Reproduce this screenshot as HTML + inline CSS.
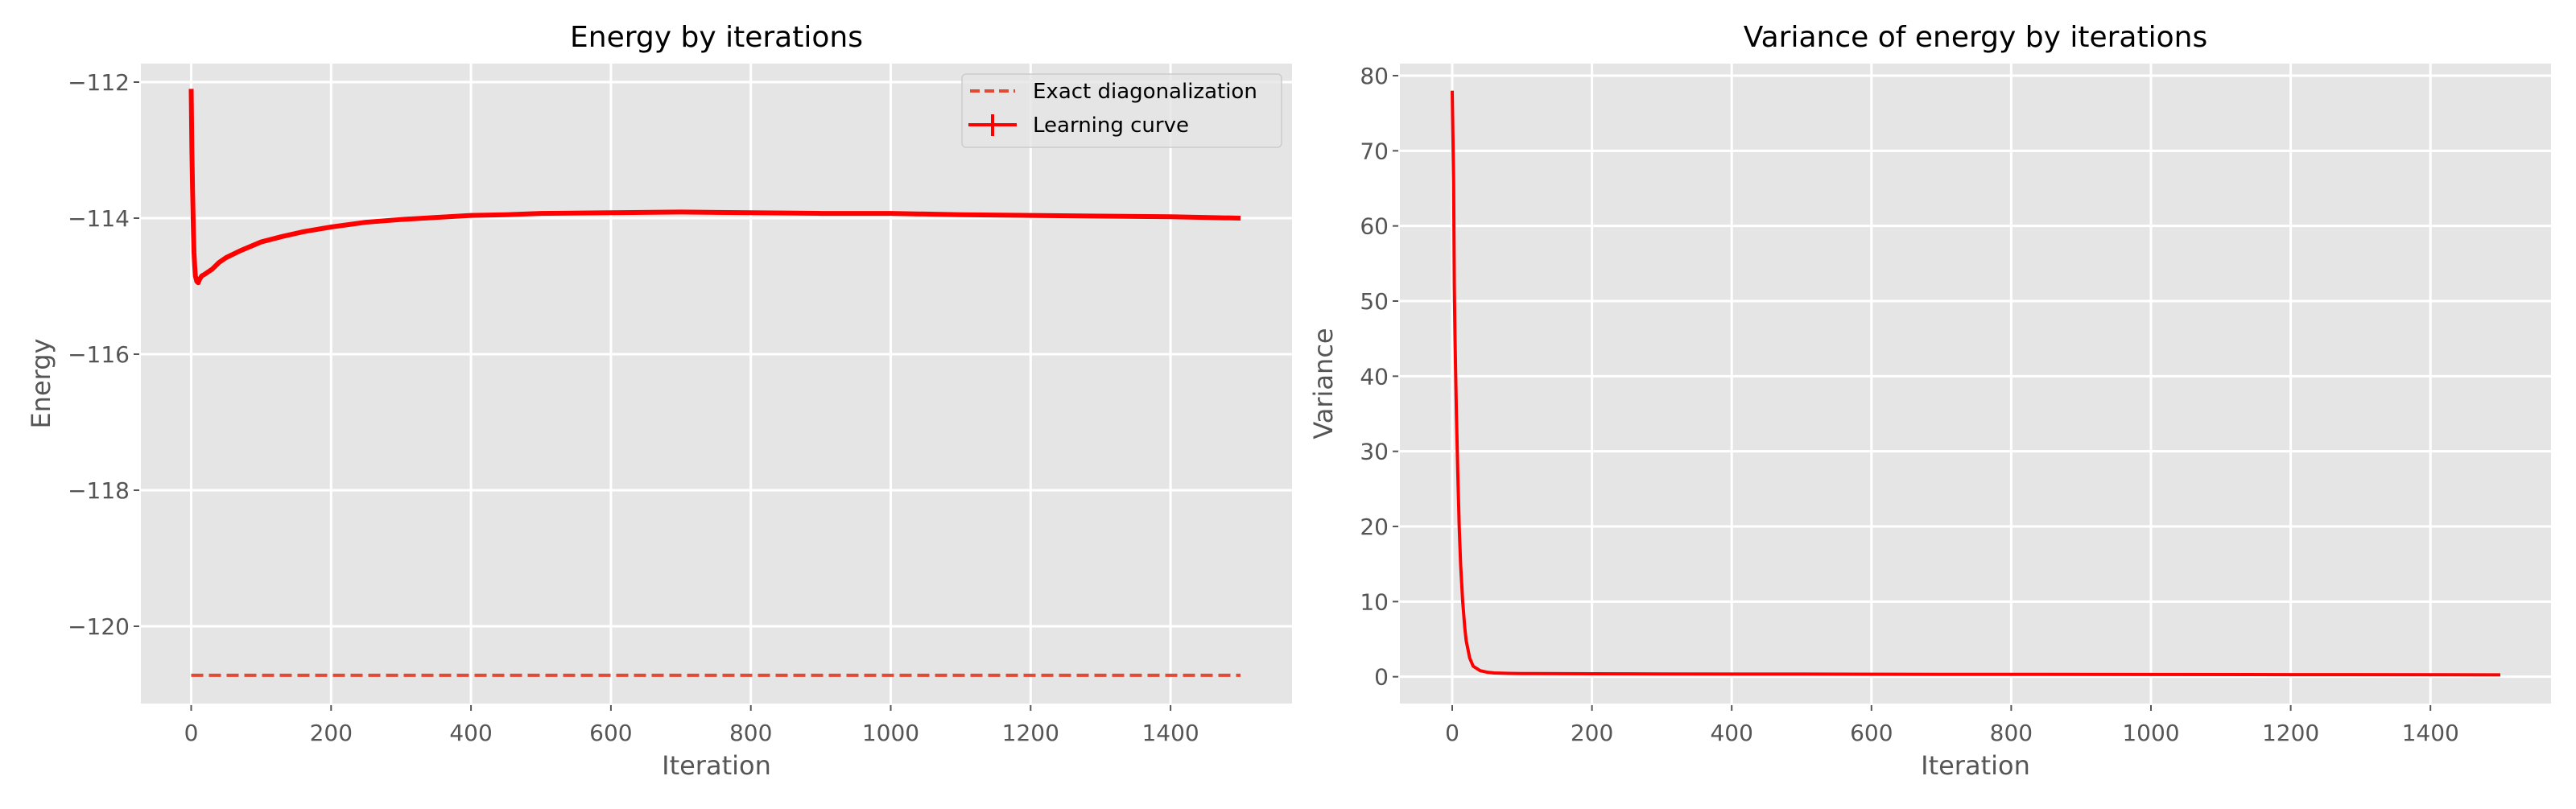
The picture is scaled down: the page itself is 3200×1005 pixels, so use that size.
<!DOCTYPE html>
<html><head><meta charset="utf-8">
<style>
html,body{margin:0;padding:0;background:#fff;}
svg text{font-family:"DejaVu Sans","Liberation Sans",sans-serif;}
</style></head>
<body>
<svg id="fig" width="3200" height="1000" viewBox="0 0 3200 1000" xmlns="http://www.w3.org/2000/svg"></svg>
<script>
// ---- Energy chart data ----
const energyIters = [0,1,2,3,4,5,6,8,10,12,15,20,30,40,50,70,100,130,160,200,250,300,350,400,450,500,600,700,800,900,1000,1100,1200,1300,1400,1500];
const energyVals  = [-112.1,-113.0,-113.6,-114.1,-114.5,-114.7,-114.85,-114.93,-114.95,-114.9,-114.85,-114.82,-114.75,-114.65,-114.58,-114.48,-114.35,-114.27,-114.2,-114.13,-114.06,-114.02,-113.99,-113.96,-113.95,-113.93,-113.92,-113.91,-113.92,-113.93,-113.93,-113.95,-113.96,-113.97,-113.98,-114.0];
const exactEnergy = -120.72;
const energyYTicks = [-112,-114,-116,-118,-120];
const xTicks = [0,200,400,600,800,1000,1200,1400];
// ---- Variance chart data ----
const varIters = [0,1,2,3,4,5,6,8,10,12,15,18,20,25,30,40,50,60,80,100,200,300,500,700,1000,1200,1500];
const varVals  = [78,72,66,52,45,40,35,27,20,15,10,6.5,4.8,2.5,1.4,0.8,0.6,0.5,0.45,0.42,0.4,0.37,0.35,0.32,0.3,0.28,0.25];
const varYTicks = [0,10,20,30,40,50,60,70,80];

const NS="http://www.w3.org/2000/svg";
const svg=document.getElementById('fig');
function mk(tag,attrs,parent){const e=document.createElementNS(NS,tag);for(const k in attrs)e.setAttribute(k,attrs[k]);(parent||svg).appendChild(e);return e;}

function drawAxes(cfg){
  const g=mk('g',{});
  
  
  const X=v=>cfg.x0+(v-cfg.xmin)*(cfg.x1-cfg.x0)/(cfg.xmax-cfg.xmin);
  const Y=v=>cfg.y1-(v-cfg.ymin)*(cfg.y1-cfg.y0)/(cfg.ymax-cfg.ymin);
  const bg=mk('rect',{x:cfg.x0,y:cfg.y0,width:cfg.x1-cfg.x0,height:cfg.y1-cfg.y0,fill:'#e5e5e5'},g);
  
  
  cfg.xticks.forEach(t=>{
    const x=X(t);
    const gl=mk('line',{x1:x,x2:x,y1:cfg.y0,y2:cfg.y1,stroke:'#fff','stroke-width':3},g);
    
    
    mk('line',{x1:x,x2:x,y1:cfg.y1+2,y2:cfg.y1+9,stroke:'#555','stroke-width':2},g);
    const tl=mk('text',{x:x,y:cfg.y1+46,'font-size':28,fill:'#555','text-anchor':'middle'},g);
    tl.textContent=t;
    
    
  });
  cfg.yticks.forEach(t=>{
    const y=Y(t);
    const gl=mk('line',{x1:cfg.x0,x2:cfg.x1,y1:y,y2:y,stroke:'#fff','stroke-width':3},g);
    
    
    mk('line',{x1:cfg.x0-9,x2:cfg.x0-2,y1:y,y2:y,stroke:'#555','stroke-width':2},g);
    const tl=mk('text',{x:cfg.x0-14,y:y+10,'font-size':28,fill:'#555','text-anchor':'end'},g);
    tl.textContent=(t<0?'\u2212'+(-t):t);
    
    
  });
  const cx=(cfg.x0+cfg.x1)/2;
  const title=mk('text',{x:cx,y:58,'font-size':36,fill:'#000','text-anchor':'middle'},g);
  title.textContent=cfg.title;
  
  
  const xl=mk('text',{x:cx,y:962,'font-size':32,fill:'#555','text-anchor':'middle'},g);
  xl.textContent='Iteration';
  
  
  const yc=(cfg.y0+cfg.y1)/2;
  const yl=mk('text',{x:cfg.ylabX,y:yc,'font-size':32,fill:'#555','text-anchor':'middle',transform:`rotate(-90 ${cfg.ylabX} ${yc})`},g);
  yl.textContent=cfg.ylabel;
  
  
  return {g,X,Y};
}

// Energy
const A=drawAxes({name:'energy-chart',x0:175,x1:1605,y0:79,y1:874,xmin:(175-237.5)/0.869,xmax:(1605-237.5)/0.869,
  ymin:-120-(874-778)/84.5,ymax:-112+(102-79)/84.5,xticks:xTicks,yticks:energyYTicks,title:'Energy by iterations',ylabel:'Energy',ylabX:62});
const ex=mk('line',{x1:A.X(0),x2:A.X(1500),y1:A.Y(exactEnergy),y2:A.Y(exactEnergy),stroke:'#e24a33','stroke-width':4,'stroke-dasharray':'15 7'},A.g);


const ep=mk('polyline',{points:energyIters.map((v,i)=>A.X(v)+','+A.Y(energyVals[i])).join(' '),fill:'none',stroke:'#ff0000','stroke-width':6,'stroke-linejoin':'round'},A.g);



// legend
const lg=mk('g',{},A.g);


mk('rect',{x:1195,y:92,width:397,height:91,rx:5,fill:'#e5e5e5','fill-opacity':0.8,stroke:'#cccccc','stroke-width':1.5},lg);
mk('line',{x1:1205,x2:1261,y1:113,y2:113,stroke:'#e24a33','stroke-width':4,'stroke-dasharray':'12 6'},lg);
mk('line',{x1:1203,x2:1263,y1:155,y2:155,stroke:'#ff0000','stroke-width':4},lg);
mk('line',{x1:1233,x2:1233,y1:142,y2:169,stroke:'#ff0000','stroke-width':4},lg);
const l1=mk('text',{x:1283,y:122,'font-size':26,fill:'#000'},lg);l1.textContent='Exact diagonalization';


const l2=mk('text',{x:1283,y:164,'font-size':26,fill:'#000'},lg);l2.textContent='Learning curve';



// Variance
const B=drawAxes({name:'variance-chart',x0:1739,x1:3169,y0:79,y1:874,xmin:(1739-1804)/0.868,xmax:(3169-1804)/0.868,
  ymin:-(874-840.7)/9.33,ymax:80+(94-79)/9.33,xticks:xTicks,yticks:varYTicks,title:'Variance of energy by iterations',ylabel:'Variance',ylabX:1655});
const vp=mk('polyline',{points:varIters.map((v,i)=>B.X(v)+','+B.Y(varVals[i])).join(' '),fill:'none',stroke:'#ff0000','stroke-width':4,'stroke-linejoin':'round'},B.g);


</script>
</body></html>
